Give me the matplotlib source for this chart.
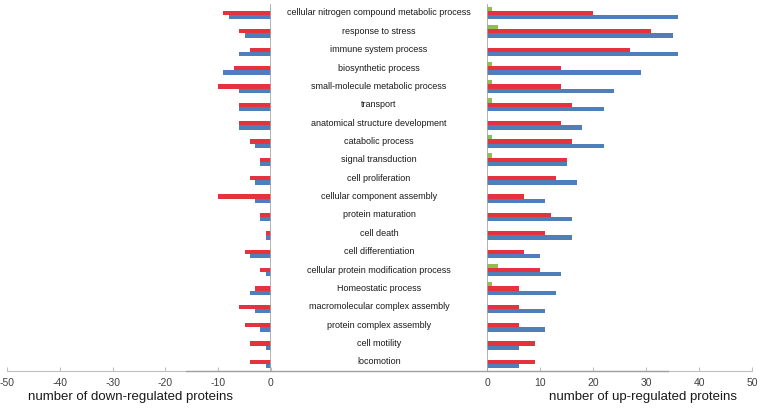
import numpy as np
import matplotlib
matplotlib.use('Agg')
import matplotlib.pyplot as plt
from matplotlib.lines import Line2D

plt.rcParams['font.family'] = ['Liberation Sans Narrow', 'Liberation Sans', 'DejaVu Sans']
plt.rcParams['axes.unicode_minus'] = False

categories = ['cellular nitrogen compound metabolic process', 'response to stress',
              'immune system process', 'biosynthetic process',
              'small-molecule metabolic process', 'transport',
              'anatomical structure development', 'catabolic process',
              'signal transduction', 'cell proliferation',
              'cellular component assembly', 'protein maturation', 'cell death',
              'cell differentiation', 'cellular protein modification process',
              'Homeostatic process', 'macromolecular complex assembly',
              'protein complex assembly', 'cell motility', 'locomotion']

# down-regulated (left panel)
down_red = [9, 6, 4, 7, 10, 6, 6, 4, 2, 4, 10, 2, 1, 5, 2, 3, 6, 5, 4, 4]
down_blue = [8, 5, 6, 9, 6, 6, 6, 3, 2, 3, 3, 2, 1, 4, 1, 4, 3, 2, 1, 1]

# up-regulated (right panel)
up_green = [1, 2, 0, 1, 1, 1, 0, 1, 1, 0, 0, 0, 0, 0, 2, 1, 0, 0, 0, 0]
up_red = [20, 31, 27, 14, 14, 16, 14, 16, 15, 13, 7, 12, 11, 7, 10, 6, 6, 6, 9, 9]
up_blue = [36, 35, 36, 29, 24, 22, 18, 22, 15, 17, 11, 16, 16, 10, 14, 13, 11, 11, 6, 6]

c_red = '#E5323F'
c_blue = '#4F7FBA'
c_green = '#8CC152'

W, H = 760, 411
fig = plt.figure(figsize=(W / 100, H / 100), dpi=100)

top_px, bot_px = 3.8, 371
def ax_rect(x0, x1):
    return [x0 / W, 1 - bot_px / H, (x1 - x0) / W, (bot_px - top_px) / H]

axL = fig.add_axes(ax_rect(7, 271))
axR = fig.add_axes(ax_rect(487, 752))

n = len(categories)
y = np.arange(n)
bh = 0.235

axL.barh(y, [-v for v in down_red], height=bh, color=c_red)
axL.barh(y + bh, [-v for v in down_blue], height=bh, color=c_blue)
axL.set_xlim(-50, 0)
axL.set_xticks(np.arange(-50, 1, 10))

axR.barh(y - bh, up_green, height=bh, color=c_green)
axR.barh(y, up_red, height=bh, color=c_red)
axR.barh(y + bh, up_blue, height=bh, color=c_blue)
axR.set_xlim(0, 50)
axR.set_xticks(np.arange(0, 51, 10))

for ax in (axL, axR):
    ax.set_ylim(n - 0.5, -0.5)
    ax.set_yticks([])
    for s in ('top', 'right', 'left'):
        ax.spines[s].set_visible(False)
    ax.spines['bottom'].set_color('#BFBFBF')
    ax.tick_params(axis='x', direction='in', length=3, color='#BFBFBF',
                   labelsize=7.5, labelcolor='#404040', pad=5)

axL.axvline(0, color='#A6A6A6', lw=1.2)
axR.axvline(0, color='#A6A6A6', lw=1.2)

# category labels in the middle
for i, name in enumerate(categories):
    yy = 1 - (top_px + (i + 0.5) * (bot_px - top_px) / n) / H
    fig.text(379 / W, yy, name, ha='center', va='center', fontsize=6.5, color='#1A1A1A')

# darker frame line at the bottom
fig.add_artist(Line2D([186 / W, 668 / W], [1 - 370.5 / H] * 2, color='#A0A0A0', lw=1))

fig.text(131 / W, 1 - 397 / H, 'number of down-regulated proteins', ha='center', va='center',
         fontsize=9.5, color='#1A1A1A')
fig.text(643 / W, 1 - 397 / H, 'number of up-regulated proteins', ha='center', va='center',
         fontsize=9.5, color='#1A1A1A')

fig.savefig('out.png', dpi=100)
